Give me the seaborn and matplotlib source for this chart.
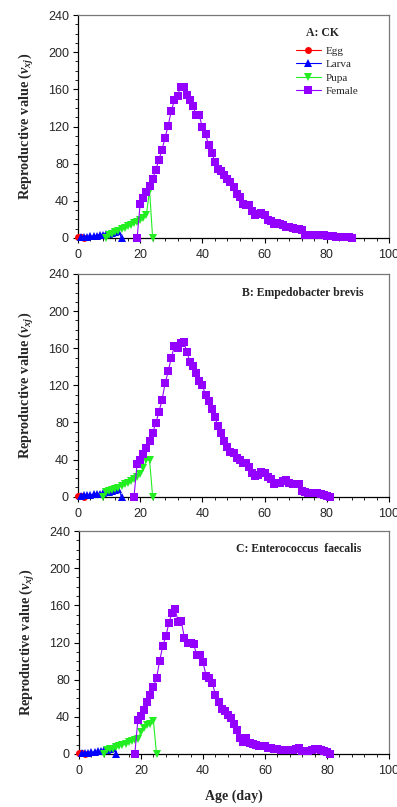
import numpy as np
import pandas as pd
import matplotlib
matplotlib.use("Agg")
import matplotlib.pyplot as plt
import seaborn as sns

# ---------------- data ----------------
# Panel A: CK
egg_days_A = [0, 1, 2]
egg_vals_A = [1.0, 1.1, 0.0]
larva_days_A = list(range(1, 15))
larva_vals_A = [1.1, 1.3, 1.6, 1.9, 2.2, 2.6, 3.0, 3.5, 4.1, 4.8, 5.6, 6.5, 7.5, 0.0]
pupa_days_A = list(range(9, 25))
pupa_vals_A = [0.0, 3.0, 4.7, 6.4, 8.0, 9.5, 11.0, 12.5, 14.0, 15.8, 17.6, 19.5, 21.5, 25.0, 52.0, 0.0]
female_days_A = list(range(19, 89))
female_vals_A = [0, 37, 43, 49, 56, 64, 73, 84, 95, 108, 121, 137, 148, 153, 163, 163,
                 154, 148, 142, 132, 132, 119, 112, 100, 92, 82, 74, 72, 68, 63, 60, 55,
                 47, 44, 37, 35, 35, 29, 25, 26, 26.5, 25, 19.5, 18.3, 15, 16.5, 15, 13.6,
                 12.2, 11.5, 10.8, 10, 9.5, 8.6, 3.5, 3.3, 3.2, 3.1, 3.0, 2.9, 2.8, 2.6,
                 2.3, 1.9, 1.6, 1.4, 1.2, 1.0, 0.8, 0.5]

# Panel B: Empedobacter brevis
egg_days_B = [0, 1, 2]
egg_vals_B = [1.0, 1.1, 0.0]
larva_days_B = list(range(1, 15))
larva_vals_B = [1.1, 1.4, 1.7, 2.0, 2.4, 2.8, 3.3, 3.9, 4.6, 5.4, 6.3, 7.3, 8.5, 0.0]
pupa_days_B = list(range(8, 25))
pupa_vals_B = [0.0, 4.7, 6.0, 7.0, 8.6, 9.7, 11.5, 13.3, 15.0, 17.0, 19.4, 21.6, 25.0,
               30.5, 39.5, 40.0, 0.0]
female_days_B = list(range(18, 82))
female_vals_B = [0, 35, 40, 46, 53, 60, 69, 79, 91, 104, 122, 135, 150, 162, 160, 166,
                 167, 156, 145, 141, 133, 125, 120, 109.6, 103.4, 94.5, 85.5, 76.5, 68.3,
                 60, 53.9, 48.5, 46.7, 42, 39.5, 36.6, 36, 32.3, 25.2, 22.6, 23.4, 26.6,
                 25.9, 21.6, 19, 13.7, 15, 15, 16.6, 18, 15, 13.7, 13.7, 13.7, 6.5, 5,
                 3.6, 3.6, 3.6, 3.6, 2.9, 1.4, 0.3, 0.0]

# Panel C: Enterococcus faecalis
egg_days_C = [0, 1, 2]
egg_vals_C = [1.0, 1.1, 0.0]
larva_days_C = list(range(1, 13))
larva_vals_C = [1.1, 1.3, 1.6, 1.9, 2.3, 2.8, 3.3, 4.0, 4.8, 5.7, 6.8, 0.0]
pupa_days_C = list(range(8, 26))
pupa_vals_C = [0.0, 4.0, 5.0, 5.7, 7.0, 8.5, 9.5, 11.0, 12.5, 14.0, 15.0, 16.0, 24.0,
               28.0, 31.0, 32.0, 36.0, 0.0]
female_days_C = list(range(18, 82))
female_vals_C = [0, 37, 41, 47, 56, 63.5, 72, 81.5, 100, 116, 126.5, 141, 152, 156, 142,
                 143, 125, 119, 119, 118, 106.5, 106.5, 98.7, 84.3, 82, 76.8, 63.8, 55.6,
                 48, 46.3, 41.6, 38.4, 32.3, 25.8, 16.9, 12.9, 16.9, 11.5, 10.4, 9.3, 8.6,
                 8.6, 8.9, 6.8, 6.5, 5.7, 5.4, 4.3, 4.3, 4.0, 4.3, 4.3, 5.0, 6.0, 3.6, 3.2,
                 3.6, 4.3, 5.0, 5.4, 4.7, 3.6, 2.2, 0.0]

stage_names = ["Egg", "Larva", "Pupa", "Female"]
panel_titles = ["A: CK", "B: Empedobacter brevis", "C: Enterococcus  faecalis"]
x_ticks = [0, 20, 40, 60, 80, 100]
y_ticks = [0, 40, 80, 120, 160, 200, 240]

panels = [
    [(egg_days_A, egg_vals_A), (larva_days_A, larva_vals_A), (pupa_days_A, pupa_vals_A), (female_days_A, female_vals_A)],
    [(egg_days_B, egg_vals_B), (larva_days_B, larva_vals_B), (pupa_days_B, pupa_vals_B), (female_days_B, female_vals_B)],
    [(egg_days_C, egg_vals_C), (larva_days_C, larva_vals_C), (pupa_days_C, pupa_vals_C), (female_days_C, female_vals_C)],
]

# ---------------- style ----------------
sns.set_theme(style="white")
plt.rcParams['font.family'] = ['Liberation Sans', 'DejaVu Sans']
plt.rcParams['mathtext.fontset'] = 'custom'
plt.rcParams['mathtext.rm'] = 'Liberation Serif:bold'
plt.rcParams['mathtext.it'] = 'Liberation Serif:italic:bold'
plt.rcParams['mathtext.bf'] = 'Liberation Serif:bold'

colors = ["#FF0000", "#0000FF", "#22EE22", "#9400FF"]
markers = ["o", "^", "v", "s"]
msizes = [5.0, 5.6, 5.8, 5.4]

fig = plt.figure(figsize=(3.97, 8.07), dpi=100)
axes_rects = [
    [78/397, 1-238/807, 311/397, 223/807],
    [78/397, 1-496.7/807, 311/397, 222.7/807],
    [79/397, 1-754/807, 310/397, 223/807],
]
title_pos = [(0.785, 0.919), (0.723, 0.916), (0.707, 0.918)]

for i, rect in enumerate(axes_rects):
    ax = fig.add_axes(rect)
    for j, (d, v) in enumerate(panels[i]):
        df = pd.DataFrame({"Age": d, "Value": v})
        sns.lineplot(data=df, x="Age", y="Value", ax=ax, color=colors[j],
                     marker=markers[j], markersize=msizes[j], markeredgewidth=0,
                     linewidth=0.8, label=stage_names[j], clip_on=False,
                     zorder=3 + j, estimator=None, sort=False)
    ax.set_xlim(0, 100)
    ax.set_ylim(0, 240)
    ax.set_xticks(x_ticks)
    ax.set_yticks(y_ticks)
    ax.set_xticks(np.arange(0, 101, 4), minor=True)
    ax.set_yticks(np.arange(0, 241, 10), minor=True)
    ax.tick_params(axis='both', which='major', direction='out', length=3.5, width=0.8,
                   labelsize=9, color='black')
    ax.tick_params(axis='both', which='minor', direction='out', length=2, width=0.6,
                   color='black')
    ax.tick_params(axis='x', which='major', pad=4.5, bottom=True)
    ax.tick_params(axis='x', which='minor', bottom=True)
    ax.tick_params(axis='y', which='major', pad=3, left=True)
    ax.tick_params(axis='y', which='minor', left=True)
    for s in ['left', 'bottom']:
        ax.spines[s].set_color('black')
        ax.spines[s].set_linewidth(0.9)
    for s in ['top', 'right']:
        ax.spines[s].set_color('#777777')
        ax.spines[s].set_linewidth(0.9)
    ax.set_xlabel("")
    ax.set_ylabel(r'Reproductive value ($\mathit{v}_{\mathit{xj}}$)',
                  family='Liberation Serif', fontweight='bold', fontsize=10.3)
    ax.yaxis.set_label_coords(-0.135, 0.5)
    ax.text(title_pos[i][0], title_pos[i][1], panel_titles[i], transform=ax.transAxes,
            ha='center', va='center', family='Liberation Serif', fontweight='bold',
            fontsize=8.5)
    if i == 0:
        leg = ax.legend(loc='upper left', bbox_to_anchor=(0.70, 0.86), frameon=False,
                        prop={'family': 'Liberation Serif', 'size': 8},
                        handlelength=2.3, handletextpad=0.4, labelspacing=0.32,
                        borderpad=0, borderaxespad=0)
    else:
        ax.get_legend().remove()

fig.text(234/397, 1-796.7/807, "Age (day)", ha='center', va='center',
         family='Liberation Serif', fontweight='bold', fontsize=10)

fig.savefig("out.png", dpi=100, facecolor='white')
